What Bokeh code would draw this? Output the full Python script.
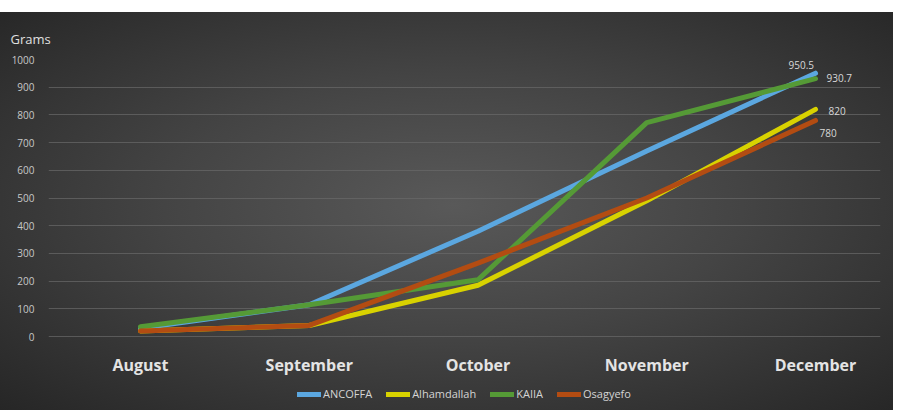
from bokeh.plotting import figure
from bokeh.models import (FixedTicker, Legend, LegendItem, Title, Range1d,
                          ColumnDataSource)
from bokeh.core.properties import value
from bokeh.embed import file_html
from bokeh.resources import INLINE

months = ["August", "September", "October", "November", "December"]
ancoffa = [30, 115, 380, 670, 950.5]
alhamdallah = [20, 40, 185, 490, 820]
kaiia = [35, 115, 205, 772, 930.7]
osagyefo = [20, 40, 265, 500, 780]
y_ticks = [0, 100, 200, 300, 400, 500, 600, 700, 800, 900, 1000]

series = [
    ("ANCOFFA", ancoffa, "#5ba7e0"),
    ("Alhamdallah", alhamdallah, "#d8d200"),
    ("KAIIA", kaiia, "#559a36"),
    ("Osagyefo", osagyefo, "#b34c12"),
]
label_offsets = {"ANCOFFA": (-27, -8, "950.5"), "Alhamdallah": (13, 2, "820"),
                 "KAIIA": (11, -1, "930.7"), "Osagyefo": (4, 13, "780")}

x = list(range(len(months)))

p = figure(width=907, height=410, output_backend="svg", toolbar_location=None,
           x_range=Range1d(-0.545, 4.385), y_range=Range1d(-267, 1000),
           x_axis_location=None,
           min_border_left=48, min_border_right=27, min_border_top=59,
           min_border_bottom=0)
p.styles = {"background": ("linear-gradient(to bottom, #ffffff 0px, #ffffff 12px, transparent 12px), "
                           "linear-gradient(to left, #ffffff 0px, #ffffff 14px, transparent 14px), "
                           "radial-gradient(ellipse at 50% 50%, #595959 0%, #444444 45%, #262626 100%)")}
p.border_fill_alpha = 0
p.background_fill_alpha = 0
p.outline_line_color = None

p.xgrid.grid_line_color = None
p.ygrid.grid_line_color = "#6a6a6a"
p.ygrid.grid_line_alpha = 0.7
p.ygrid.ticker = FixedTicker(ticks=y_ticks)

p.yaxis.ticker = FixedTicker(ticks=y_ticks)
p.yaxis.axis_line_color = None
p.yaxis.major_tick_line_color = None
p.yaxis.minor_tick_line_color = None
p.yaxis.major_label_text_color = "#c8c8c8"
p.yaxis.major_label_text_font = "Liberation Sans Narrow, Open Sans"
p.yaxis.major_label_text_font_size = "10px"
p.yaxis.major_label_standoff = 8

# category labels below the zero line
p.text(x=x, y=[0] * len(months), text=months, y_offset=28,
       text_color="#e4e4e4", text_font_size="16px", text_font_style="bold",
       text_font=value("Open Sans"), text_align="center", text_baseline="middle")

items = []
for name, vals, color in series:
    src = ColumnDataSource(dict(x=x, y=vals))
    r = p.line("x", "y", source=src, line_color=color, line_width=5,
               line_join="round", line_cap="round")
    items.append(LegendItem(label=name, renderers=[r]))

for name, vals, color in series:
    dx, dy, txt = label_offsets[name]
    p.text(x=[x[-1]], y=[vals[-1]], text=[txt], x_offset=dx, y_offset=dy,
           text_color="#d8d8d8", text_font_size="10px",
           text_font=value("Open Sans"), text_baseline="middle", text_align="left")

legend = Legend(items=items, orientation="horizontal", location="bottom_center",
                background_fill_alpha=0, border_line_color=None,
                label_text_color="#d4d4d4", label_text_font_size="11px",
                label_text_font="Liberation Sans Narrow, Open Sans",
                glyph_width=24, glyph_height=10, spacing=14, padding=2,
                label_standoff=2, margin=9)
p.add_layout(legend, "center")

p.add_layout(Title(text="Grams", align="left", text_color="#e0e0e0",
                   text_font_size="13px", text_font_style="normal",
                   text_font="Liberation Sans Narrow, Open Sans", offset=-38,
                   standoff=23), "above")

open("out.html", "w").write(file_html(p, INLINE))
